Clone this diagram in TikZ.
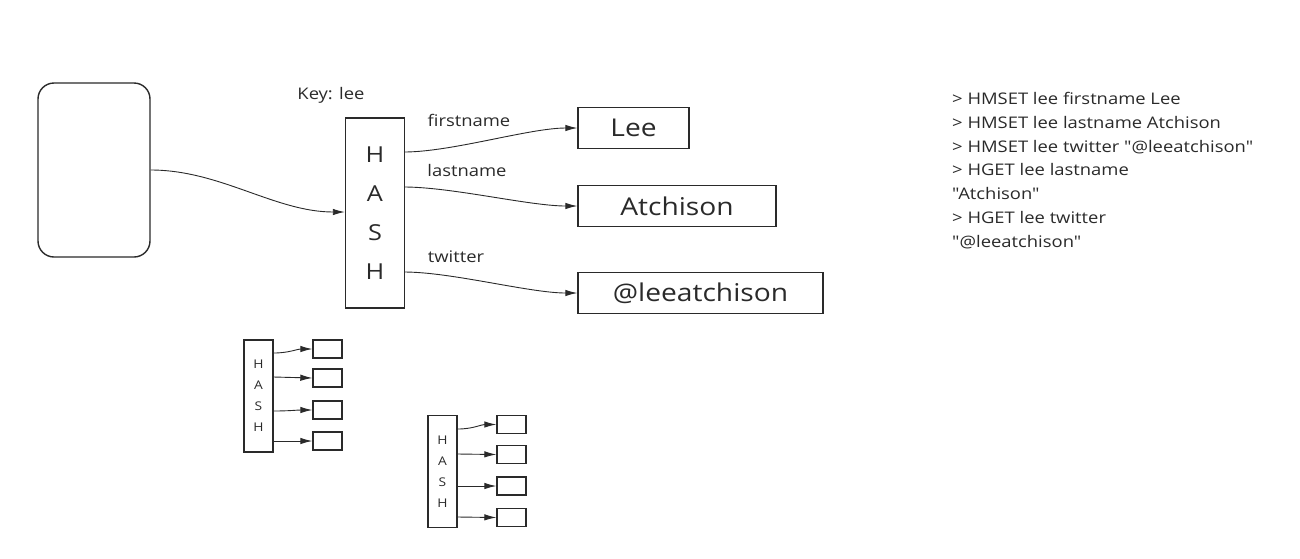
\documentclass[tikz,border=0pt]{standalone}
\usepackage{fontspec}
\setmainfont{Open Sans}[Ligatures=TeXOff, FakeStretch=1.15]
\usetikzlibrary{arrows.meta}

\begin{document}
\begin{tikzpicture}[x=1pt,y=-1pt]
	\definecolor{ink}{HTML}{2A2A2A}
	\tikzset{comp/.style={
		rectangle, draw=ink, line width=1.4pt, text=ink, inner sep=0pt
	}}
	\tikzset{hashbig/.style={
		comp, minimum width=59pt, minimum height=190pt, align=center,
		font=\fontsize{22}{39}\selectfont
	}}
	\tikzset{hashsmall/.style={
		comp, minimum width=29pt, minimum height=112pt, align=center,
		font=\fontsize{12}{21}\selectfont
	}}
	\tikzset{valuebox/.style={
		comp, minimum height=41pt, font=\fontsize{24.5}{24.5}\selectfont
	}}
	\tikzset{slot/.style={
		comp, minimum width=29pt, minimum height=18pt
	}}
	\tikzset{caption/.style={
		text=ink, inner sep=0pt, font=\fontsize{16}{18}\selectfont
	}}
	\tikzset{conn/.style={
		draw=ink, line width=0.9pt, -{Latex[length=12pt, width=6.5pt]}
	}}

	\useasboundingbox (0,0) rectangle (1300,558);

	% Client
	\node (Client) [comp, rounded corners=16pt, minimum width=112pt, minimum height=174pt] at (94,170) {};

	% Hash
	\node (Hash) [hashbig] at (375,213) {H\\A\\S\\H}
		node [caption] at (331,95) {Key: lee}
		% Outputs rechts
		coordinate (Hash_first) at (404,152)
		coordinate (Hash_last)  at (404,187)
		coordinate (Hash_tw)    at (404,272)
	;

	% Values
	\node (Lee)      [valuebox, minimum width=111pt] at (633.5,128) {Lee};
	\node (Atchison) [valuebox, minimum width=198pt] at (677,206) {Atchison};
	\node (Twitter)  [valuebox, minimum width=245pt] at (700.5,293) {@leeatchison};

	% Field names
	\node [caption] at (469,120) {firstname};
	\node [caption] at (467,170) {lastname};
	\node [caption] at (456,257) {twitter};

	% Client -> Hash
	\draw[conn] (Client.east) to[out=0, in=180, looseness=0.9] (Hash.west |- 0,212);

	% Hash -> values
	\draw[conn] (Hash_first) to[out=0, in=180, looseness=0.7] (Lee.west);
	\draw[conn] (Hash_last)  to[out=0, in=180, looseness=0.7] (Atchison.west);
	\draw[conn] (Hash_tw)    to[out=0, in=180, looseness=0.7] (Twitter.west);

	% Commands
	\node (Commands) [caption, anchor=north west, align=left, font=\fontsize{16}{23.8}\selectfont] at (952,92)
		{> HMSET lee firstname Lee\\
		 > HMSET lee lastname Atchison\\
		 > HMSET lee twitter "@leeatchison"\\
		 > HGET lee lastname\\
		 "Atchison"\\
		 > HGET lee twitter\\
		 "@leeatchison"};

	% Small hash (links)
	\node (HashA) [hashsmall] at (258.5,396) {H\\A\\S\\H};
	\node (HashA_1) [slot] at (327.5,349) {};
	\node (HashA_2) [slot] at (327.5,378) {};
	\node (HashA_3) [slot] at (327.5,410) {};
	\node (HashA_4) [slot] at (327.5,441) {};
	\draw[conn] (HashA.east |- 0,353) to[out=0, in=180] (HashA_1.west);
	\draw[conn] (HashA.east |- 0,377) -- (HashA_2.west);
	\draw[conn] (HashA.east |- 0,411) to[out=0, in=180] (HashA_3.west);
	\draw[conn] (HashA.east |- 0,441) -- (HashA_4.west);

	% Small hash (rechts)
	\node (HashB) [hashsmall] at (442.5,471.5) {H\\A\\S\\H};
	\node (HashB_1) [slot] at (511.5,424.5) {};
	\node (HashB_2) [slot] at (511.5,454.5) {};
	\node (HashB_3) [slot] at (511.5,486) {};
	\node (HashB_4) [slot] at (511.5,517.5) {};
	\draw[conn] (HashB.east |- 0,429) to[out=0, in=180] (HashB_1.west);
	\draw[conn] (HashB.east |- 0,454) -- (HashB_2.west);
	\draw[conn] (HashB.east |- 0,486) -- (HashB_3.west);
	\draw[conn] (HashB.east |- 0,517) -- (HashB_4.west);
\end{tikzpicture}
\end{document}
